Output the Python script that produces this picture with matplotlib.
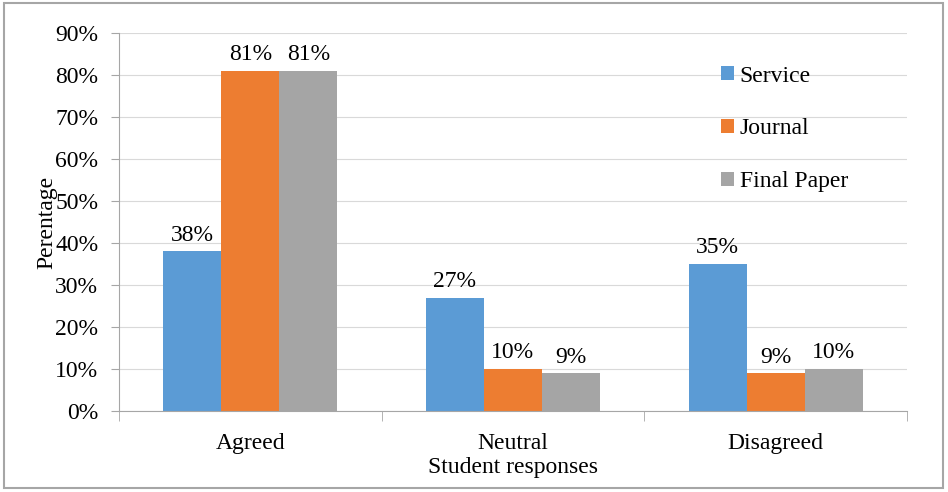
import matplotlib
matplotlib.use("Agg")
import matplotlib.pyplot as plt
from matplotlib.patches import Rectangle
import numpy as np

plt.rcParams['font.family'] = ['Liberation Serif', 'DejaVu Serif']

categories = ["Agreed", "Neutral", "Disagreed"]
series_names = ["Service", "Journal", "Final Paper"]
service = [38, 27, 35]
journal = [81, 10, 9]
final_paper = [81, 9, 10]
colors = ["#5B9BD5", "#ED7D31", "#A5A5A5"]

fs = 17

fig = plt.figure(figsize=(9.48, 4.92), dpi=100)
ax = fig.add_axes([0.1255, 0.1646, 0.8312, 0.7683])

x = np.arange(len(categories))
width = 0.221
for i, (vals, name, c) in enumerate(zip([service, journal, final_paper], series_names, colors)):
    bars = ax.bar(x + (i - 1) * width, vals, width, color=c, label=name, zorder=2)
    ax.bar_label(bars, labels=[f"{v}%" for v in vals], padding=4, fontsize=fs)

ax.set_xlim(-0.5, 2.5)
ax.set_ylim(0, 90)
ax.set_yticks(np.arange(0, 91, 10))
ax.set_yticklabels([f"{v}%" for v in range(0, 91, 10)], fontsize=fs)
ax.yaxis.grid(True, color="#D9D9D9", linewidth=0.8, zorder=0)
ax.set_axisbelow(True)

# category labels centred, tick marks at boundaries
ax.set_xticks(x)
ax.set_xticklabels(categories, fontsize=fs)
ax.tick_params(axis='x', which='major', length=0, pad=16)
ax.set_xticks([-0.5, 0.5, 1.5, 2.5], minor=True)
ax.tick_params(axis='x', which='minor', length=7, color="#A6A6A6", direction='out')
ax.tick_params(axis='y', length=6, color="#A6A6A6", pad=9)

for s in ['top', 'right']:
    ax.spines[s].set_visible(False)
ax.spines['left'].set_color("#A6A6A6")
ax.spines['bottom'].set_color("#A6A6A6")

ax.set_xlabel("Student responses", fontsize=fs, labelpad=2)
ax.set_ylabel("Perentage", fontsize=fs, labelpad=-2)

ax.legend(loc='upper left', bbox_to_anchor=(0.737, 0.97), frameon=False, fontsize=fs,
          handlelength=0.55, handleheight=0.55, handletextpad=0.25, labelspacing=1.35)

fig.patches.append(Rectangle((0.004, 0.008), 0.991, 0.985, transform=fig.transFigure,
                             fill=False, edgecolor="#A6A6A6", linewidth=1.5))

fig.savefig("out.png", dpi=100)
